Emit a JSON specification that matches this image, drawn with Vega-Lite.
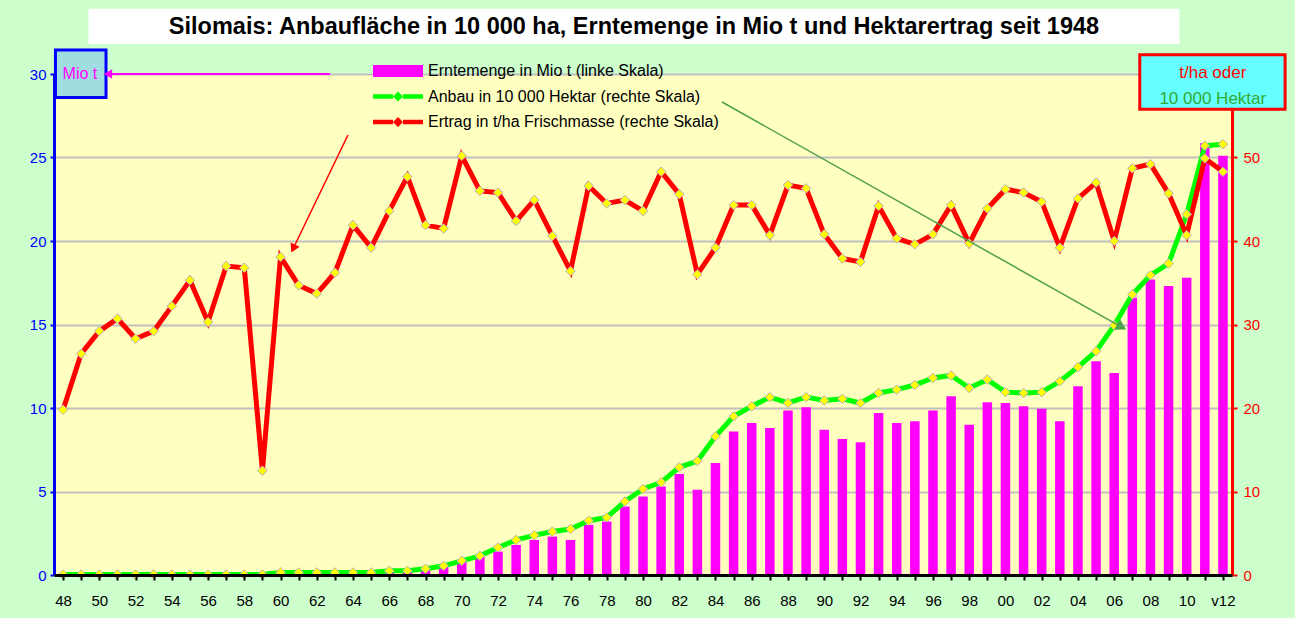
{
  "$schema": "https://vega.github.io/schema/vega-lite/v6.json",
  "width": 1178,
  "height": 501,
  "autosize": {"type": "none"},
  "padding": {"left": 54, "top": 74, "right": 63, "bottom": 43},
  "background": "#CCFFCC",
  "config": {
    "view": {"fill": "#FFFFC0", "stroke": null},
    "font": "Liberation Sans"
  },
  "title": {
    "text": "Silomais: Anbaufläche in 10 000 ha, Erntemenge in Mio t und Hektarertrag seit 1948",
    "anchor": "middle",
    "frame": "group",
    "offset": -30,
    "dx": -9,
    "fontSize": 23.5,
    "fontWeight": "bold",
    "color": "#000000"
  },
  "data": {
    "values": [
      {"year": 1948, "ernte": 0.01, "anbau": 0.05, "ertrag": 19.8},
      {"year": 1949, "ernte": 0.01, "anbau": 0.05, "ertrag": 26.5},
      {"year": 1950, "ernte": 0.01, "anbau": 0.05, "ertrag": 29.2},
      {"year": 1951, "ernte": 0.01, "anbau": 0.05, "ertrag": 30.7},
      {"year": 1952, "ernte": 0.01, "anbau": 0.05, "ertrag": 28.3},
      {"year": 1953, "ernte": 0.01, "anbau": 0.05, "ertrag": 29.2},
      {"year": 1954, "ernte": 0.01, "anbau": 0.05, "ertrag": 32.2},
      {"year": 1955, "ernte": 0.02, "anbau": 0.05, "ertrag": 35.3},
      {"year": 1956, "ernte": 0.02, "anbau": 0.05, "ertrag": 30.3},
      {"year": 1957, "ernte": 0.02, "anbau": 0.05, "ertrag": 37.0},
      {"year": 1958, "ernte": 0.02, "anbau": 0.05, "ertrag": 36.8},
      {"year": 1959, "ernte": 0.01, "anbau": 0.05, "ertrag": 12.5},
      {"year": 1960, "ernte": 0.1, "anbau": 0.3, "ertrag": 38.1},
      {"year": 1961, "ernte": 0.1, "anbau": 0.3, "ertrag": 34.7},
      {"year": 1962, "ernte": 0.1, "anbau": 0.3, "ertrag": 33.7},
      {"year": 1963, "ernte": 0.1, "anbau": 0.3, "ertrag": 36.2},
      {"year": 1964, "ernte": 0.1, "anbau": 0.3, "ertrag": 41.9},
      {"year": 1965, "ernte": 0.12, "anbau": 0.3, "ertrag": 39.2},
      {"year": 1966, "ernte": 0.2, "anbau": 0.5, "ertrag": 43.6},
      {"year": 1967, "ernte": 0.25, "anbau": 0.5, "ertrag": 47.7},
      {"year": 1968, "ernte": 0.3, "anbau": 0.75, "ertrag": 41.9},
      {"year": 1969, "ernte": 0.5, "anbau": 1.1, "ertrag": 41.5},
      {"year": 1970, "ernte": 0.9, "anbau": 1.7, "ertrag": 50.2},
      {"year": 1971, "ernte": 1.1, "anbau": 2.3, "ertrag": 46.0},
      {"year": 1972, "ernte": 1.4, "anbau": 3.3, "ertrag": 45.8},
      {"year": 1973, "ernte": 1.8, "anbau": 4.2, "ertrag": 42.4},
      {"year": 1974, "ernte": 2.1, "anbau": 4.75, "ertrag": 44.9},
      {"year": 1975, "ernte": 2.3, "anbau": 5.2, "ertrag": 40.6},
      {"year": 1976, "ernte": 2.1, "anbau": 5.5, "ertrag": 36.4},
      {"year": 1977, "ernte": 3.0, "anbau": 6.5, "ertrag": 46.6},
      {"year": 1978, "ernte": 3.2, "anbau": 6.9, "ertrag": 44.5},
      {"year": 1979, "ernte": 4.1, "anbau": 8.8, "ertrag": 44.9},
      {"year": 1980, "ernte": 4.7, "anbau": 10.3, "ertrag": 43.6},
      {"year": 1981, "ernte": 5.3, "anbau": 11.1, "ertrag": 48.3},
      {"year": 1982, "ernte": 6.05, "anbau": 12.9, "ertrag": 45.6},
      {"year": 1983, "ernte": 5.1, "anbau": 13.65, "ertrag": 36.0},
      {"year": 1984, "ernte": 6.7, "anbau": 16.6, "ertrag": 39.2},
      {"year": 1985, "ernte": 8.6, "anbau": 19.0, "ertrag": 44.3},
      {"year": 1986, "ernte": 9.1, "anbau": 20.2, "ertrag": 44.3},
      {"year": 1987, "ernte": 8.8, "anbau": 21.3, "ertrag": 40.7},
      {"year": 1988, "ernte": 9.85, "anbau": 20.6, "ertrag": 46.7},
      {"year": 1989, "ernte": 10.05, "anbau": 21.3, "ertrag": 46.3},
      {"year": 1990, "ernte": 8.7, "anbau": 20.9, "ertrag": 40.8},
      {"year": 1991, "ernte": 8.15, "anbau": 21.1, "ertrag": 37.9},
      {"year": 1992, "ernte": 7.95, "anbau": 20.6, "ertrag": 37.5},
      {"year": 1993, "ernte": 9.7, "anbau": 21.8, "ertrag": 44.2},
      {"year": 1994, "ernte": 9.1, "anbau": 22.2, "ertrag": 40.3},
      {"year": 1995, "ernte": 9.2, "anbau": 22.75, "ertrag": 39.6},
      {"year": 1996, "ernte": 9.85, "anbau": 23.6, "ertrag": 40.8},
      {"year": 1997, "ernte": 10.7, "anbau": 23.9, "ertrag": 44.3},
      {"year": 1998, "ernte": 9.0, "anbau": 22.4, "ertrag": 39.7},
      {"year": 1999, "ernte": 10.35, "anbau": 23.4, "ertrag": 43.9},
      {"year": 2000, "ernte": 10.3, "anbau": 21.9, "ertrag": 46.2},
      {"year": 2001, "ernte": 10.1, "anbau": 21.8, "ertrag": 45.8},
      {"year": 2002, "ernte": 9.95, "anbau": 21.9, "ertrag": 44.7},
      {"year": 2003, "ernte": 9.2, "anbau": 23.2, "ertrag": 39.2},
      {"year": 2004, "ernte": 11.3, "anbau": 24.9, "ertrag": 45.1},
      {"year": 2005, "ernte": 12.8, "anbau": 26.8, "ertrag": 47.0},
      {"year": 2006, "ernte": 12.1, "anbau": 29.9, "ertrag": 40.0},
      {"year": 2007, "ernte": 16.6, "anbau": 33.6, "ertrag": 48.7},
      {"year": 2008, "ernte": 17.7, "anbau": 35.9, "ertrag": 49.2},
      {"year": 2009, "ernte": 17.3, "anbau": 37.3, "ertrag": 45.7},
      {"year": 2010, "ernte": 17.8, "anbau": 43.2, "ertrag": 40.7},
      {"year": 2011, "ernte": 25.85, "anbau": 51.4, "ertrag": 49.9},
      {"year": 2012, "ernte": 25.1, "anbau": 51.6, "ertrag": 48.3}
    ]
  },
  "layer": [
    {
      "layer": [
        {
          "transform": [
            {"fold": ["ernte", "anbau", "ertrag"], "as": ["series", "value"]},
            {"filter": "datum.series == 'ernte'"}
          ],
          "mark": {"type": "bar", "size": 9.5},
          "encoding": {
            "x": {
              "field": "year", "type": "quantitative",
              "scale": {"domain": [1947.5, 2012.5], "nice": false, "zero": false, "padding": 0},
              "axis": {
                "title": null,
                "values": [1948,1949,1950,1951,1952,1953,1954,1955,1956,1957,1958,1959,1960,1961,1962,1963,1964,1965,1966,1967,1968,1969,1970,1971,1972,1973,1974,1975,1976,1977,1978,1979,1980,1981,1982,1983,1984,1985,1986,1987,1988,1989,1990,1991,1992,1993,1994,1995,1996,1997,1998,1999,2000,2001,2002,2003,2004,2005,2006,2007,2008,2009,2010,2011,2012],
                "tickCount": 200,
                "labelExpr": "datum.value % 2 == 0 ? (datum.value == 2012 ? 'v12' : substring(toString(datum.value), 2, 4)) : ''",
                "labelOverlap": false,
                "labelFlush": false,
                "labelBound": false,
                "grid": false,
                "domainColor": "#000000",
                "domainWidth": 3,
                "tickColor": "#000000",
                "tickWidth": 2,
                "tickSize": 5,
                "labelFontSize": 15,
                "labelColor": "#000000",
                "labelPadding": 13,
                "zindex": 1
              }
            },
            "y": {
              "field": "value", "type": "quantitative",
              "scale": {"domain": [0, 30], "nice": false},
              "axis": {
                "orient": "left",
                "title": null,
                "values": [0, 5, 10, 15, 20, 25, 30],
                "domainColor": "#0000FF",
                "domainWidth": 3,
                "tickColor": "#0000FF",
                "tickWidth": 2,
                "tickSize": 4,
                "labelColor": "#0000FF",
                "labelFontSize": 15,
                "labelPadding": 4,
                "grid": true,
                "gridColor": "#C0C0C0",
                "gridWidth": 2,
                "zindex": 0
              }
            },
            "color": {
              "field": "series", "type": "nominal",
              "scale": {"domain": ["ernte", "anbau", "ertrag"], "range": ["#FF00FF", "#00FF00", "#FF0000"]},
              "legend": {
                "orient": "none",
                "legendX": 334,
                "legendY": -13,
                "title": null,
                "padding": 0,
                "rowPadding": 7.5,
                "symbolSize": 400,
                "symbolType": "M-2.5,-0.6H2.5V0.6H-2.5Z",
                "labelOffset": 20,
                "labelFontSize": 16,
                "labelLimit": 500,
                "labelColor": "#000000",
                "labelExpr": "datum.value == 'ernte' ? 'Erntemenge in Mio t (linke Skala)' : (datum.value == 'anbau' ? 'Anbau in 10 000 Hektar (rechte Skala)' : 'Ertrag in t/ha Frischmasse (rechte Skala)')",
                "encode": {
                  "symbols": {
                    "update": {
                      "shape": {"signal": "datum.value == 'ernte' ? 'M-2.5,-0.6H2.5V0.6H-2.5Z' : 'M-2.5,-0.22H-0.5V0.22H-2.5Z M0.5,-0.22H2.5V0.22H0.5Z M0,-0.5L0.5,0L0,0.5L-0.5,0Z'"},
                      "fill": {"signal": "datum.value == 'ernte' ? '#FF00FF' : {gradient: 'linear', x1: 0, y1: 0, x2: 1, y2: 0, stops: [{offset: 0, color: datum.value == 'anbau' ? '#00FF00' : '#FF0000'}, {offset: 0.4, color: datum.value == 'anbau' ? '#00FF00' : '#FF0000'}, {offset: 0.4, color: '#FFFF00'}, {offset: 0.6, color: '#FFFF00'}, {offset: 0.6, color: datum.value == 'anbau' ? '#00FF00' : '#FF0000'}, {offset: 1, color: datum.value == 'anbau' ? '#00FF00' : '#FF0000'}]}"},
                      "stroke": {"value": "transparent"},
                      "strokeWidth": {"value": 0},
                      "opacity": {"value": 1},
                      "fillOpacity": {"value": 1},
                      "strokeOpacity": {"value": 0}
                    }
                  }
                }
              }
            }
          }
        },
        {
          "data": {"values": [{}]},
          "mark": {"type": "rect", "color": "#FFFFFF"},
          "encoding": {
            "x": {"datum": 1949.4, "type": "quantitative", "title": null},
            "x2": {"datum": 2009.6},
            "y": {"datum": 31.8, "type": "quantitative", "title": null},
            "y2": {"datum": 33.9}
          }
        },
        {
          "data": {"values": [{}]},
          "mark": {"type": "rect", "fill": "#A0DDE0", "stroke": "#0000FF", "strokeWidth": 3},
          "encoding": {
            "x": {"datum": 1947.58, "type": "quantitative", "title": null},
            "x2": {"datum": 1950.37},
            "y": {"datum": 28.6, "type": "quantitative", "title": null},
            "y2": {"datum": 31.44}
          }
        },
        {
          "data": {"values": [{}]},
          "mark": {"type": "text", "text": "Mio t", "color": "#FF00FF", "fontSize": 16, "align": "center", "baseline": "middle"},
          "encoding": {
            "x": {"datum": 1948.93, "type": "quantitative", "title": null},
            "y": {"datum": 30.0, "type": "quantitative", "title": null}
          }
        },
        {
          "data": {"values": [{}]},
          "mark": {"type": "rule", "color": "#FF00FF", "strokeWidth": 2},
          "encoding": {
            "x": {"datum": 1962.73, "type": "quantitative", "title": null},
            "x2": {"datum": 1950.7},
            "y": {"datum": 30.0, "type": "quantitative", "title": null}
          }
        },
        {
          "data": {"values": [{}]},
          "mark": {"type": "point", "shape": "triangle-left", "filled": true, "color": "#FF00FF", "size": 90, "opacity": 1},
          "encoding": {
            "x": {"datum": 1950.48, "type": "quantitative", "title": null},
            "y": {"datum": 30.0, "type": "quantitative", "title": null}
          }
        }
      ]
    },
    {
      "layer": [
        {
          "transform": [
            {"fold": ["ernte", "anbau", "ertrag"], "as": ["series", "value"]},
            {"filter": "datum.series != 'ernte'"}
          ],
          "mark": {"type": "line", "strokeWidth": 5},
          "encoding": {
            "x": {"field": "year", "type": "quantitative", "title": null},
            "y": {
              "field": "value", "type": "quantitative",
              "scale": {"domain": [0, 60], "nice": false},
              "axis": {
                "orient": "right",
                "title": null,
                "values": [0, 10, 20, 30, 40, 50],
                "domainColor": "#FF0000",
                "domainWidth": 3,
                "tickColor": "#FF0000",
                "tickWidth": 2,
                "tickSize": 5,
                "labelColor": "#FF0000",
                "labelFontSize": 15,
                "labelPadding": 6,
                "grid": false,
                "zindex": 0
              }
            },
            "color": {"field": "series", "type": "nominal"}
          }
        },
        {
          "transform": [
            {"fold": ["ernte", "anbau", "ertrag"], "as": ["series", "value"]},
            {"filter": "datum.series != 'ernte'"}
          ],
          "mark": {"type": "point", "shape": "diamond", "filled": true, "fill": "#FFFF00", "stroke": "#B8A8C8", "strokeWidth": 1, "size": 90, "opacity": 1},
          "encoding": {
            "x": {"field": "year", "type": "quantitative", "title": null},
            "y": {"field": "value", "type": "quantitative", "title": null}
          }
        },
        {
          "data": {"values": [{}]},
          "mark": {"type": "rect", "fill": "#66FFFF", "stroke": "#FF0000", "strokeWidth": 3},
          "encoding": {
            "x": {"datum": 2007.41, "type": "quantitative", "title": null},
            "x2": {"datum": 2015.43},
            "y": {"datum": 55.78, "type": "quantitative", "title": null},
            "y2": {"datum": 62.3}
          }
        },
        {
          "data": {"values": [{}]},
          "mark": {"type": "text", "text": "t/ha oder", "color": "#FF0000", "fontSize": 17, "align": "center", "baseline": "middle"},
          "encoding": {
            "x": {"datum": 2011.44, "type": "quantitative", "title": null},
            "y": {"datum": 60.1, "type": "quantitative", "title": null}
          }
        },
        {
          "data": {"values": [{}]},
          "mark": {"type": "text", "text": "10 000 Hektar", "color": "#33AA33", "fontSize": 17, "align": "center", "baseline": "middle"},
          "encoding": {
            "x": {"datum": 2011.44, "type": "quantitative", "title": null},
            "y": {"datum": 57.0, "type": "quantitative", "title": null}
          }
        },
        {
          "data": {"values": [{}]},
          "mark": {"type": "rule", "color": "#FF0000", "strokeWidth": 1.5},
          "encoding": {
            "x": {"datum": 1963.72, "type": "quantitative", "title": null},
            "y": {"datum": 52.7, "type": "quantitative", "title": null},
            "x2": {"datum": 1960.7},
            "y2": {"datum": 39.1}
          }
        },
        {
          "data": {"values": [{}]},
          "mark": {"type": "point", "shape": "triangle-up", "angle": 206, "filled": true, "color": "#FF0000", "size": 100, "opacity": 1},
          "encoding": {
            "x": {"datum": 1960.7, "type": "quantitative", "title": null},
            "y": {"datum": 39.1, "type": "quantitative", "title": null}
          }
        },
        {
          "data": {"values": [{}]},
          "mark": {"type": "rule", "color": "#4E9F4E", "strokeWidth": 1.5},
          "encoding": {
            "x": {"datum": 1984.36, "type": "quantitative", "title": null},
            "y": {"datum": 56.65, "type": "quantitative", "title": null},
            "x2": {"datum": 2006.41},
            "y2": {"datum": 29.69}
          }
        },
        {
          "data": {"values": [{}]},
          "mark": {"type": "point", "shape": "triangle-up", "angle": 119, "filled": true, "color": "#4E9F4E", "size": 144, "opacity": 1},
          "encoding": {
            "x": {"datum": 2006.41, "type": "quantitative", "title": null},
            "y": {"datum": 29.69, "type": "quantitative", "title": null}
          }
        }
      ]
    }
  ],
  "resolve": {"scale": {"y": "independent"}}
}
